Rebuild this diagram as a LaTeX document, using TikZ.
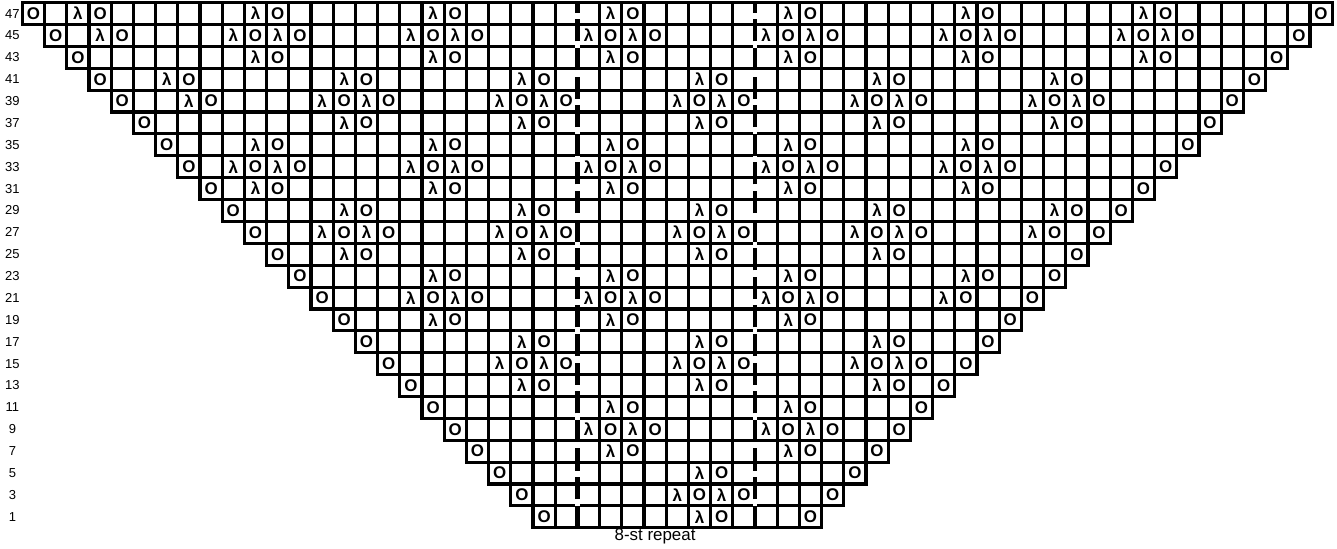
\documentclass[tikz,border=0pt]{standalone}
\usepackage{fontspec}
\setmainfont{Liberation Sans}
\usetikzlibrary{calc}

\tikzset{
  chartline/.style={line width=2.4pt},
  sym/.style={inner sep=0pt, font=\fontsize{13}{13}\selectfont\bfseries},
  rownum/.style={inner sep=0pt, font=\fontsize{10}{10}\selectfont},
  repline/.style={line width=3.8pt, dash pattern=on 17pt off 5pt},
}

\begin{document}
\begin{tikzpicture}[x=0.6cm,y=0.5914cm]
\useasboundingbox (-1.01,-0.93) rectangle (59.22,24.12);

% rows of the chart, with the edge yarn-overs
\foreach \k in {0,...,23}{
  \pgfmathtruncatemacro\lft{23-\k}
  \pgfmathtruncatemacro\rgt{36+\k}
  \pgfmathtruncatemacro\rn{2*\k+1}
  \draw[chartline] (\lft,\k) rectangle (\rgt,\k+1);
  \foreach \c in {\lft,...,\rgt} \draw[chartline] (\c,\k) -- (\c,\k+1);
  \node[rownum] (n\rn) at (-0.45,\k+0.5) {\rn};
  \node[sym] (el\rn) at (\lft+0.5,\k+0.5) {O};
  \node[sym] (er\rn) at (\rgt-0.5,\k+0.5) {O};
}

% decreases: lambda in the cell, O in the next one
\foreach \k/\lams in {0/{30}, 1/{29,31}, 2/{30}, 3/{26,34},
    4/{25,27,33,35}, 5/{26,34}, 6/{22,30,38}, 7/{21,23,29,31,37,39},
    8/{22,30,38}, 9/{18,26,34}, 10/{17,19,25,27,33,35,41},
    11/{18,26,34,42}, 12/{14,22,30,38},
    13/{13,15,21,23,29,31,37,39,45}, 14/{14,22,30,38,46},
    15/{10,18,26,34,42}, 16/{9,11,17,19,25,27,33,35,41,43},
    17/{10,18,26,34,42}, 18/{14,22,30,38,46},
    19/{7,13,15,21,23,29,31,37,39,45,47}, 20/{6,14,22,30,38,46},
    21/{10,18,26,34,42,50}, 22/{3,9,11,17,19,25,27,33,35,41,43,49,51},
    23/{2,10,18,26,34,42,50}}{
  \foreach \c in \lams{
    \node[sym] (l\k-\c) at (\c+0.5,\k+0.5) {λ};
    \node[sym] (o\k-\c) at (\c+1.5,\k+0.5) {O};
  }
}

% repeat lines
\foreach \x in {25,33}{
  \coordinate (b\x) at (\x,0);
  \coordinate (t\x) at (\x,24);
  \draw[line width=3.8pt,white] (b\x) -- (t\x);
  \draw[repline] (b\x) -- (t\x);
}
\node[font=\fontsize{13}{13}\selectfont] (rep) at (28.5,-0.4) {8-st repeat};
\end{tikzpicture}
\end{document}
